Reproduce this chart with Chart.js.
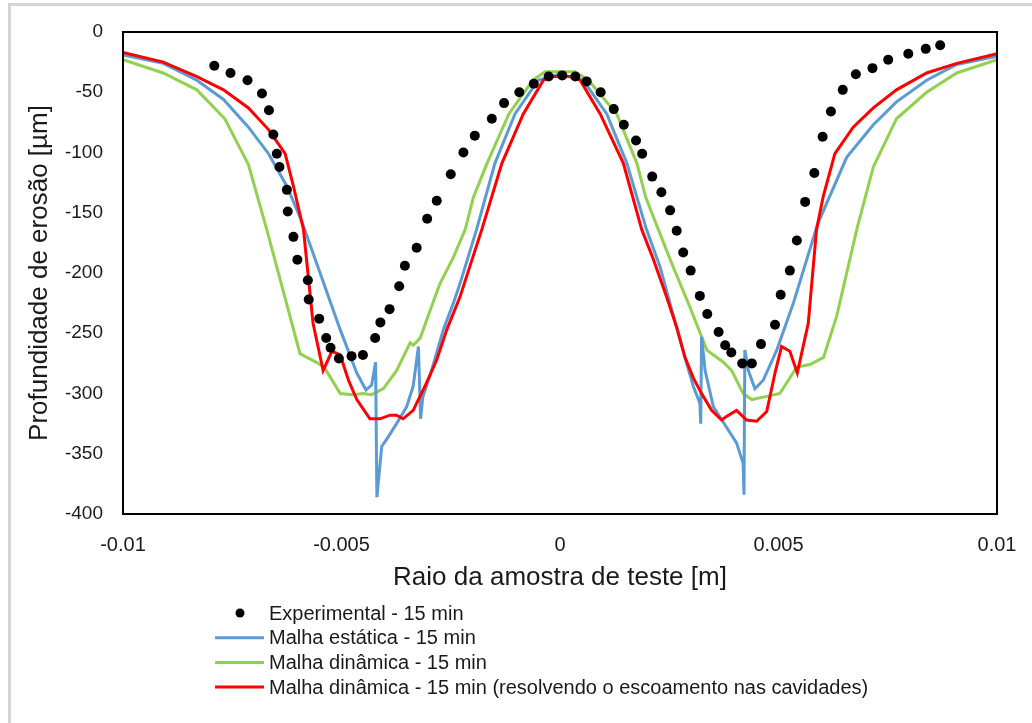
<!DOCTYPE html>
<html>
<head>
<meta charset="utf-8">
<script src="https://cdn.jsdelivr.net/npm/chart.js@4"></script>
<style>
  html, body { margin: 0; padding: 0; background: #fff; }
  #wrap { position: relative; width: 1032px; height: 723px; overflow: hidden; }
  #frame { position: absolute; left: 8px; top: 3px; right: -10px; bottom: -10px;
           border-left: 3px solid #d4d4d4; border-top: 3px solid #d4d4d4; }
  canvas { position: absolute; left: 0; top: 0; }
</style>
</head>
<body>
<div id="wrap">
  <div id="frame"></div>
  <canvas id="myChart" width="1032" height="723"></canvas>
</div>
<script>
const xTicks = [-0.01, -0.005, 0, 0.005, 0.01];
const yTicks = [0, -50, -100, -150, -200, -250, -300, -350, -400];

// Experimental - 15 min
const expX = [-0.00791, -0.00754, -0.00715, -0.00682, -0.00666, -0.00656, -0.00648, -0.00642, -0.00625, -0.00623,
  -0.00610, -0.00601, -0.00577, -0.00575, -0.00551, -0.00535, -0.00525, -0.00506, -0.00477, -0.00451,
  -0.00423, -0.00411, -0.00390, -0.00368, -0.00355, -0.00328, -0.00304, -0.00282, -0.00250, -0.00221,
  -0.00195, -0.00156, -0.00128, -0.00093, -0.00060, -0.00026, 0.00005, 0.00035, 0.00061, 0.00093,
  0.00123, 0.00146, 0.00174, 0.00188, 0.00211, 0.00232, 0.00252, 0.00267, 0.00282, 0.00299,
  0.00320, 0.00337, 0.00363, 0.00378, 0.00392, 0.00417, 0.00439, 0.00460, 0.00492, 0.00505,
  0.00526, 0.00542, 0.00561, 0.00582, 0.00601, 0.00620, 0.00647, 0.00677, 0.00715, 0.00751,
  0.00797, 0.00837, 0.00870];
const expY = [-28, -34, -40, -51, -65, -85, -101, -112, -131, -149,
  -170, -189, -206, -222, -238, -254, -262, -271, -269, -268,
  -254, -241, -230, -211, -194, -179, -155, -140, -118, -100,
  -86, -72, -59, -50, -43, -37, -36, -37, -41, -50,
  -64, -77, -90, -101, -120, -133, -148, -165, -183, -198,
  -219, -234, -249, -260, -266, -275, -275, -259, -243, -218,
  -198, -173, -141, -117, -87, -66, -48, -35, -30, -23,
  -18, -14, -11];

// Malha estática - 15 min
const staticX = [-0.01, -0.00908, -0.00831, -0.00770, -0.00713, -0.00667, -0.00625, -0.00591, -0.00503, -0.00465,
  -0.00444, -0.00431, -0.00422, -0.00419, -0.00408, -0.00393, -0.00374, -0.00351, -0.00336, -0.00324,
  -0.00319, -0.00314, -0.00294, -0.00267, -0.00244, -0.00229, -0.00191, -0.00149, -0.00103, -0.00050,
  0, 0.00053, 0.00107, 0.00153, 0.00198, 0.00229, 0.00275, 0.00305, 0.00320, 0.00322,
  0.00324, 0.00332, 0.00351, 0.00381, 0.00404, 0.00419, 0.00421, 0.00423, 0.00431, 0.00446,
  0.00465, 0.00496, 0.00534, 0.00590, 0.00656, 0.00717, 0.00770, 0.00839, 0.00908, 0.01];
const staticY = [-19, -26, -40, -56, -79, -101, -128, -157, -247, -283,
  -297, -293, -274, -386, -344, -336, -325, -311, -294, -261,
  -321, -303, -281, -247, -225, -209, -164, -109, -68, -40,
  -35, -40, -68, -109, -164, -195, -256, -294, -308, -325,
  -253, -281, -311, -328, -341, -358, -384, -264, -281, -296,
  -289, -264, -225, -159, -104, -77, -58, -40, -27, -20];

// Malha dinâmica - 15 min
const dynX = [-0.01, -0.00908, -0.00831, -0.00767, -0.00713, -0.00671, -0.00595, -0.00553, -0.00538, -0.00503,
  -0.00473, -0.00450, -0.00431, -0.00404, -0.00374, -0.00343, -0.00336, -0.00320, -0.00297, -0.00275,
  -0.00244, -0.00217, -0.00198, -0.00167, -0.00117, -0.00062, -0.00034, 0.00034, 0.00065, 0.00130,
  0.00176, 0.00196, 0.00225, 0.00259, 0.00297, 0.00336, 0.00374, 0.00393, 0.00419, 0.00439,
  0.00465, 0.00503, 0.00542, 0.00572, 0.00603, 0.00633, 0.00679, 0.00717, 0.00770, 0.00839,
  0.00908, 0.01];
const dynY = [-23, -34, -48, -72, -110, -164, -267, -275, -279, -300,
  -301, -300, -301, -296, -281, -258, -260, -254, -231, -209,
  -187, -164, -137, -109, -68, -40, -33, -33, -40, -68,
  -109, -137, -164, -195, -228, -264, -274, -281, -300, -305,
  -303, -300, -278, -276, -270, -236, -164, -112, -72, -50,
  -34, -23];

// Malha dinâmica - 15 min (resolvendo o escoamento nas cavidades)
const cavX = [-0.01, -0.00908, -0.00831, -0.00770, -0.00713, -0.00667, -0.00629, -0.00610, -0.00587, -0.00576,
  -0.00565, -0.00542, -0.00522, -0.00503, -0.00484, -0.00465, -0.00435, -0.00412, -0.00389, -0.00374,
  -0.00359, -0.00336, -0.00309, -0.00282, -0.00259, -0.00229, -0.00179, -0.00133, -0.00084, -0.00038,
  -0.00023, 0.00030, 0.00046, 0.00092, 0.00145, 0.00187, 0.00214, 0.00244, 0.00267, 0.00286,
  0.00305, 0.00324, 0.00347, 0.00370, 0.00381, 0.00404, 0.00427, 0.00450, 0.00473, 0.00492,
  0.00507, 0.00526, 0.00543, 0.00568, 0.00587, 0.00602, 0.00629, 0.00671, 0.00717, 0.00770,
  0.00839, 0.00908, 0.01];
const cavY = [-17, -25, -37, -48, -63, -81, -101, -128, -164, -203,
  -242, -281, -265, -268, -289, -305, -321, -321, -318, -318,
  -321, -314, -294, -272, -247, -220, -164, -109, -68, -40,
  -37, -37, -40, -68, -109, -164, -189, -220, -245, -270,
  -287, -300, -314, -322, -319, -314, -322, -323, -315, -283,
  -261, -265, -283, -242, -164, -137, -101, -79, -63, -48,
  -34, -26, -18];

const toPoints = (xs, ys) => xs.map((x, i) => ({ x: x, y: ys[i] }));

const FONT = "'Liberation Sans', Arial, sans-serif";
const TEXT = '#1a1a1a';

const boxPlugin = {
  id: 'box',
  afterDraw(chart) {
    const { ctx, chartArea: a } = chart;
    ctx.save();
    ctx.strokeStyle = '#000';
    ctx.lineWidth = 2;
    ctx.strokeRect(a.left, a.top, a.right - a.left, a.bottom - a.top);
    ctx.restore();
  }
};

// legend drawn one item per row, like the original
const legendPlugin = {
  id: 'rowLegend',
  afterDraw(chart) {
    const ctx = chart.ctx;
    const x0 = 215, x1 = 264, tx = 269;
    let y = 613;
    ctx.save();
    ctx.font = '20px ' + FONT;
    ctx.textBaseline = 'middle';
    chart.data.datasets.forEach(ds => {
      if (ds.showLine === false) {
        ctx.beginPath();
        ctx.arc(240, y, 4.5, 0, Math.PI * 2);
        ctx.fillStyle = ds.backgroundColor;
        ctx.fill();
      } else {
        ctx.beginPath();
        ctx.moveTo(x0, y);
        ctx.lineTo(x1, y);
        ctx.strokeStyle = ds.borderColor;
        ctx.lineWidth = 3;
        ctx.stroke();
      }
      ctx.fillStyle = TEXT;
      ctx.fillText(ds.label, tx, y + 1);
      y += 24.7;
    });
    ctx.restore();
  }
};

const ctx = document.querySelector('#myChart').getContext('2d');

const myChart = new Chart(ctx, {
  type: 'scatter',
  data: {
    datasets: [
      {
        label: 'Experimental - 15 min',
        data: toPoints(expX, expY),
        showLine: false,
        pointRadius: 5,
        pointBackgroundColor: '#000',
        pointBorderWidth: 0,
        backgroundColor: '#000',
        borderColor: '#000',
        order: 0
      },
      {
        label: 'Malha estática - 15 min',
        data: toPoints(staticX, staticY),
        showLine: true,
        pointRadius: 0,
        borderWidth: 3,
        borderColor: '#5b9bd5',
        backgroundColor: '#5b9bd5',
        order: 2
      },
      {
        label: 'Malha dinâmica - 15 min',
        data: toPoints(dynX, dynY),
        showLine: true,
        pointRadius: 0,
        borderWidth: 3,
        borderColor: '#92d050',
        backgroundColor: '#92d050',
        order: 3
      },
      {
        label: 'Malha dinâmica - 15 min (resolvendo o escoamento nas cavidades)',
        data: toPoints(cavX, cavY),
        showLine: true,
        pointRadius: 0,
        borderWidth: 3,
        borderColor: '#ff0000',
        backgroundColor: '#ff0000',
        order: 1
      }
    ]
  },
  options: {
    responsive: false,
    animation: false,
    layout: { padding: { left: 0, right: 35, top: 32, bottom: 130 } },
    plugins: {
      legend: { display: false },
      tooltip: { enabled: false }
    },
    scales: {
      x: {
        type: 'linear',
        min: -0.01,
        max: 0.01,
        afterBuildTicks: (axis) => { axis.ticks = xTicks.map(v => ({ value: v })); },
        afterFit: (axis) => {
          axis.height = 79;
          axis.paddingLeft = 0;
          axis.paddingRight = 0;
        },
        grid: { display: false, drawTicks: false },
        border: { display: false },
        ticks: {
          padding: 19,
          color: TEXT,
          font: { family: FONT, size: 20 },
          callback: (value) => String(value)
        },
        title: {
          display: true,
          text: 'Raio da amostra de teste [m]',
          color: TEXT,
          font: { family: FONT, size: 26 },
          padding: { top: 0, bottom: 0 }
        }
      },
      y: {
        type: 'linear',
        min: -400,
        max: 0,
        afterBuildTicks: (axis) => { axis.ticks = yTicks.map(v => ({ value: v })); },
        afterFit: (axis) => {
          axis.width = 123;
          axis.paddingTop = 0;
          axis.paddingBottom = 0;
        },
        grid: { display: false, drawTicks: false },
        border: { display: false },
        ticks: {
          padding: 20,
          color: TEXT,
          font: { family: FONT, size: 19 }
        },
        title: {
          display: true,
          text: 'Profundidade de erosão [µm]',
          color: TEXT,
          font: { family: FONT, size: 26 },
          padding: { top: 24, bottom: 0 }
        }
      }
    }
  },
  plugins: [boxPlugin, legendPlugin]
});
</script>
</body>
</html>
